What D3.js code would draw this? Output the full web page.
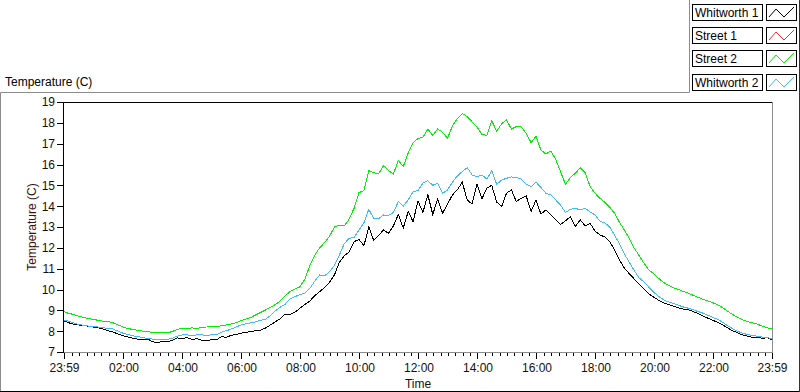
<!DOCTYPE html>
<html>
<head>
<meta charset="utf-8">
<script src="https://cdn.jsdelivr.net/npm/d3@7"></script>
<style>
  body { margin: 0; background: #fff; }
  svg { display: block; font-family: "Liberation Sans", Arial, sans-serif; }
</style>
</head>
<body>
<div id="chart"></div>
<script>
// readings every 10 minutes, starting at 23:59
var stepMinutes = 10;

var whitworth1 = [
  8.49, 8.40, 8.33, 8.30, 8.26, 8.24, 8.20, 8.16, 8.10, 8.02, 7.96, 7.86, 7.78, 7.72, 7.66, 7.62,
  7.58, 7.62, 7.50, 7.44, 7.52, 7.48, 7.56, 7.68, 7.62, 7.70, 7.60, 7.64, 7.56, 7.53, 7.60, 7.58,
  7.74, 7.70, 7.80, 7.84, 7.90, 7.94, 7.98, 8.02, 8.05, 8.15, 8.30, 8.45, 8.60, 8.82, 8.80, 8.92,
  9.10, 9.28, 9.45, 9.70, 9.90, 10.10, 10.35, 10.70, 11.30, 11.62, 11.80, 12.30, 12.40, 12.10, 13.00, 12.35,
  12.60, 12.86, 12.70, 13.05, 13.60, 12.95, 13.74, 13.26, 14.25, 13.70, 14.55, 13.60, 14.35, 13.66, 14.10, 14.54,
  14.78, 15.15, 14.30, 14.10, 15.05, 14.35, 14.86, 15.00, 14.20, 13.98, 14.62, 14.78, 14.22, 14.38, 14.50, 13.74,
  14.30, 13.62, 13.82, 13.58, 13.34, 13.12, 13.30, 13.50, 13.02, 13.34, 13.05, 13.18, 12.80, 12.62, 12.52, 12.30,
  11.90, 11.40, 11.02, 10.75, 10.50, 10.25, 10.02, 9.78, 9.62, 9.48, 9.36, 9.28, 9.20, 9.12, 9.06, 9.02,
  8.94, 8.84, 8.72, 8.62, 8.52, 8.42, 8.30, 8.15, 8.02, 7.92, 7.82, 7.76, 7.70, 7.72, 7.66, 7.68, 7.60
];

// Street 1 is in the legend but its trace is not visible in the chart
var street1 = [];

var street2 = [
  8.93, 8.85, 8.80, 8.72, 8.66, 8.60, 8.56, 8.52, 8.48, 8.46, 8.40, 8.30, 8.20, 8.13, 8.08, 8.04,
  8.00, 7.97, 7.95, 7.93, 7.95, 7.92, 7.98, 8.08, 8.14, 8.12, 8.16, 8.12, 8.18, 8.20, 8.21, 8.21,
  8.26, 8.30, 8.34, 8.40, 8.50, 8.58, 8.66, 8.78, 8.90, 9.02, 9.15, 9.28, 9.45, 9.70, 9.90, 10.02,
  10.13, 10.50, 11.15, 11.65, 12.00, 12.25, 12.55, 13.00, 13.08, 13.05, 13.38, 13.90, 14.65, 14.75, 15.70, 15.60,
  15.55, 15.95, 15.70, 15.55, 16.20, 15.90, 16.55, 17.05, 17.25, 17.30, 17.70, 17.40, 17.70, 17.55, 17.26, 17.85,
  18.20, 18.45, 18.30, 18.05, 17.80, 17.45, 17.40, 18.10, 17.60, 17.95, 18.14, 17.70, 17.82, 17.80, 17.50, 17.05,
  17.35, 16.70, 16.50, 16.65, 16.25, 15.65, 15.05, 15.38, 15.58, 15.85, 15.60, 14.95, 14.62, 14.38, 14.18, 13.95,
  13.65, 13.22, 12.85, 12.45, 11.98, 11.62, 11.25, 10.92, 10.75, 10.52, 10.33, 10.20, 10.08, 10.00, 9.90, 9.82,
  9.72, 9.62, 9.52, 9.45, 9.36, 9.26, 9.12, 8.95, 8.80, 8.66, 8.54, 8.46, 8.40, 8.34, 8.24, 8.16, 8.10
];

var whitworth2 = [
  8.54, 8.48, 8.40, 8.32, 8.28, 8.24, 8.22, 8.20, 8.16, 8.14, 8.10, 8.00, 7.90, 7.84, 7.78, 7.74,
  7.69, 7.65, 7.62, 7.58, 7.58, 7.60, 7.66, 7.76, 7.82, 7.82, 7.80, 7.82, 7.82, 7.80, 7.82, 7.82,
  7.95, 8.02, 8.10, 8.20, 8.30, 8.36, 8.40, 8.45, 8.52, 8.58, 8.75, 8.98, 9.15, 9.30, 9.55, 9.66,
  9.75, 9.82, 10.05, 10.40, 10.70, 10.66, 10.85, 11.15, 11.65, 12.20, 12.46, 12.50, 12.85, 13.20, 13.85, 13.40,
  13.40, 13.58, 13.55, 13.70, 14.22, 14.00, 14.30, 14.70, 14.75, 15.10, 15.22, 15.00, 15.10, 14.62, 14.78, 15.15,
  15.45, 15.66, 15.85, 15.50, 15.42, 15.50, 15.30, 15.70, 15.05, 15.25, 15.34, 15.40, 15.38, 15.30, 15.05, 14.94,
  15.15, 14.90, 14.62, 14.55, 14.30, 14.05, 13.70, 13.85, 13.90, 13.82, 13.90, 13.72, 13.58, 13.28, 13.20, 13.00,
  12.60, 12.18, 11.70, 11.30, 10.90, 10.55, 10.35, 10.10, 9.85, 9.66, 9.50, 9.40, 9.32, 9.24, 9.16, 9.10,
  9.02, 8.94, 8.86, 8.76, 8.66, 8.56, 8.42, 8.26, 8.12, 8.00, 7.90, 7.84, 7.79, 7.76, 7.72, 7.68, 7.66
];

var seriesNames = ["Whitworth 1", "Street 1", "Street 2", "Whitworth 2"];
var seriesColors = ["#000000", "#ff2a2a", "#00ee00", "#3cbcff"];
var seriesValues = [whitworth1, street1, street2, whitworth2];

var yTicks = [7, 8, 9, 10, 11, 12, 13, 14, 15, 16, 17, 18, 19];
var xTickHours = [2, 4, 6, 8, 10, 12, 14, 16, 18, 20, 22];

var width = 800, height = 392;
var margin = {left: 64, right: 28, top: 102, bottom: 40};

var start = new Date(Date.UTC(2000, 0, 1, 23, 59));
var end = new Date(Date.UTC(2000, 0, 2, 23, 59));

var svg = d3.select("#chart").append("svg")
  .attr("width", width)
  .attr("height", height);

var x = d3.scaleUtc()
  .domain([start, end])
  .range([margin.left, width - margin.right]);

var y = d3.scaleLinear()
  .domain([7, 19])
  .range([height - margin.bottom, margin.top]);

// outer panel frame
svg.append("line").attr("x1", 0.5).attr("y1", 92.5).attr("x2", 689.5).attr("y2", 92.5).attr("stroke", "#8c8c8c");
svg.append("line").attr("x1", 689.5).attr("y1", 0).attr("x2", 689.5).attr("y2", 92.5).attr("stroke", "#8c8c8c");
svg.append("line").attr("x1", 0.5).attr("y1", 92.5).attr("x2", 0.5).attr("y2", height).attr("stroke", "#8c8c8c");
svg.append("line").attr("x1", 0).attr("y1", 391.5).attr("x2", width).attr("y2", 391.5).attr("stroke", "#000");
svg.append("line").attr("x1", 799.5).attr("y1", 0).attr("x2", 799.5).attr("y2", height).attr("stroke", "#333");

svg.append("text")
  .attr("x", 5).attr("y", 86)
  .attr("font-size", "12px").attr("fill", "#000")
  .text("Temperature (C)");

// plot area
var x0 = x.range()[0], x1 = x.range()[1], yTop = y.range()[1], yBot = y.range()[0];
svg.append("rect")
  .attr("x", x0).attr("y", yTop).attr("width", x1 - x0).attr("height", yBot - yTop)
  .attr("fill", "#fff");

svg.append("clipPath").attr("id", "plotclip").append("rect")
  .attr("x", x0).attr("y", yTop - 1).attr("width", x1 - x0 + 1).attr("height", yBot - yTop + 2);

var line = d3.line()
  .x(function (d, i) { return x(new Date(start.getTime() + i * stepMinutes * 60000)); })
  .y(function (d) { return y(d); });

var plots = svg.append("g").attr("clip-path", "url(#plotclip)");
seriesValues.forEach(function (vals, k) {
  if (!vals.length) return;
  plots.append("path")
    .datum(vals)
    .attr("d", line)
    .attr("fill", "none")
    .attr("stroke", seriesColors[k])
    .attr("stroke-width", 1)
    .attr("shape-rendering", "crispEdges");
});

// plot border: dark top/left, grey right/bottom
svg.append("line").attr("x1", x0 - 0.5).attr("y1", yTop + 0.5).attr("x2", x1).attr("y2", yTop + 0.5).attr("stroke", "#000");
svg.append("line").attr("x1", x1 + 0.5).attr("y1", yTop).attr("x2", x1 + 0.5).attr("y2", yBot + 1).attr("stroke", "#8c8c8c");
svg.append("line").attr("x1", x0).attr("y1", yBot + 0.5).attr("x2", x1 + 1).attr("y2", yBot + 0.5).attr("stroke", "#8c8c8c");
svg.append("line").attr("x1", x0 - 0.5).attr("y1", yTop).attr("x2", x0 - 0.5).attr("y2", yBot + 1).attr("stroke", "#000");

// y axis
var yAxis = svg.append("g")
  .attr("transform", "translate(" + (x0 - 1) + ",0)")
  .call(d3.axisLeft(y).tickValues(yTicks).tickSize(6).tickPadding(2));
yAxis.select(".domain").remove();
yAxis.selectAll("line").attr("stroke", "#000").attr("shape-rendering", "crispEdges");
yAxis.selectAll("text").attr("font-size", "12px").attr("font-family", "Liberation Sans").attr("fill", "#111");

// x axis
var fmt = d3.utcFormat("%H:%M");
var majors = [start].concat(xTickHours.map(function (h) {
  return new Date(Date.UTC(2000, 0, 2, h, 0));
})).concat([end]);

var minors = d3.utcMinute.every(15).range(start, end).filter(function (d) {
  return d.getUTCMinutes() !== 0 || d.getUTCHours() % 2 !== 0;
});

var xMinor = svg.append("g")
  .attr("transform", "translate(0," + (yBot + 1) + ")")
  .call(d3.axisBottom(x).tickValues(minors).tickSize(3).tickFormat(""));
xMinor.select(".domain").remove();
xMinor.selectAll("line").attr("stroke", "#000").attr("shape-rendering", "crispEdges");

var xAxis = svg.append("g")
  .attr("transform", "translate(0," + (yBot + 1) + ")")
  .call(d3.axisBottom(x).tickValues(majors).tickSize(6).tickPadding(4).tickFormat(fmt));
xAxis.select(".domain").remove();
xAxis.selectAll("line").attr("stroke", "#000").attr("shape-rendering", "crispEdges");
xAxis.selectAll("text").attr("font-size", "12px").attr("font-family", "Liberation Sans").attr("fill", "#111");

// axis titles
svg.append("text")
  .attr("x", (x0 + x1) / 2).attr("y", 388)
  .attr("text-anchor", "middle")
  .attr("font-size", "12px").attr("fill", "#111")
  .text("Time");

svg.append("text")
  .attr("transform", "translate(36," + ((yTop + yBot) / 2) + ") rotate(-90)")
  .attr("text-anchor", "middle")
  .attr("font-size", "12px").attr("fill", "#3a1010")
  .text("Temperature (C)");

// legend
var legend = svg.append("g");
var rowTops = [4, 27, 50, 74];
seriesNames.forEach(function (name, k) {
  var g = legend.append("g").attr("transform", "translate(0," + rowTops[k] + ")");
  g.append("rect")
    .attr("x", 692.5).attr("y", 0.5).attr("width", 70).attr("height", 16)
    .attr("fill", "#fff").attr("stroke", "#000");
  g.append("text")
    .attr("x", 695).attr("y", 13)
    .attr("font-size", "12px").attr("fill", "#000")
    .text(name);
  g.append("rect")
    .attr("x", 766.5).attr("y", 0.5).attr("width", 30).attr("height", 16)
    .attr("fill", "#fff").attr("stroke", "#000");
  g.append("path")
    .attr("d", "M769,13L776,5L784,13L794,3")
    .attr("fill", "none")
    .attr("stroke", seriesColors[k]);
});
</script>
</body>
</html>
